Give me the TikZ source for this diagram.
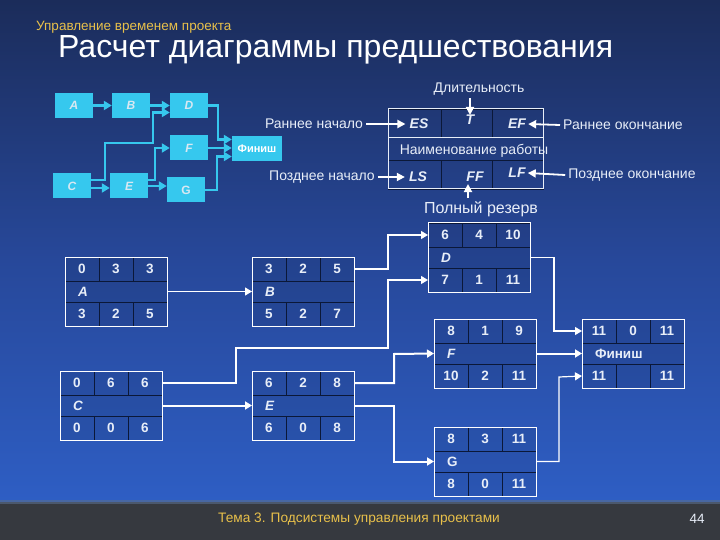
\documentclass[tikz,border=0pt]{standalone}
\usepackage{fontspec}
\setmainfont{Liberation Sans}
\usetikzlibrary{arrows.meta,calc}
\definecolor{bgtop}{HTML}{1B2C5A}
\definecolor{bgmid}{HTML}{27489A}
\definecolor{bgbot}{HTML}{2E5EC4}
\definecolor{band}{HTML}{36393F}
\definecolor{bandline}{HTML}{5A6E8C}
\definecolor{cyanbox}{HTML}{36C8EE}
\definecolor{cyantext}{HTML}{D8E8F2}
\definecolor{paletext}{HTML}{E8EEF8}
\definecolor{gridline}{HTML}{0B1838}
\definecolor{yel}{HTML}{E8C04A}
\newcommand\acttable[9]{%
  \node[cellbox, anchor=north west] (#1-t1) at (#2) {#3};
  \node[cellbox, anchor=west] (#1-t2) at (#1-t1.east) {#4};
  \node[cellbox, anchor=west] (#1-t3) at (#1-t2.east) {#5};
  \node[namebox, anchor=north west] (#1-n) at (#1-t1.south west) {#6};
  \node[cellbox, anchor=north west] (#1-b1) at (#1-n.south west) {#7};
  \node[cellbox, anchor=west] (#1-b2) at (#1-b1.east) {#8};
  \node[cellbox, anchor=west] (#1-b3) at (#1-b2.east) {#9};
  \draw[outerline] (#1-t1.north west) rectangle (#1-b3.south east);
}
\begin{document}
\begin{tikzpicture}[x=1pt,y=-1pt,
  cellbox/.style={draw=gridline, line width=0.9pt, fill=black, fill opacity=0.08, text opacity=1,
    minimum width=34pt, minimum height=24pt, inner sep=0pt, outer sep=0pt, text=paletext,
    font=\fontsize{13.5}{15}\selectfont\bfseries},
  namebox/.style={draw=gridline, line width=0.9pt, fill=black, fill opacity=0.08, text opacity=1,
    minimum height=21pt, inner ysep=0pt, inner xsep=13pt, outer sep=0pt, text width=76pt, align=left, text=paletext,
    font=\fontsize{13.5}{15}\selectfont\bfseries},
  outerline/.style={draw=white, line width=1pt},
  legcell/.style={draw=gridline, line width=0.9pt, inner sep=0pt, outer sep=0pt},
  legtxt/.style={text=paletext, font=\fontsize{14}{16}\selectfont\bfseries\itshape, inner sep=0pt},
  leglbl/.style={text=paletext, font=\fontsize{14}{16}\selectfont, inner sep=3pt},
  legarr/.style={draw=white, line width=1.8pt, -{Triangle[length=8pt,width=8pt]}},
  conn/.style={draw=white, line width=1.2pt, -{Triangle[length=7pt,width=8pt]}},
  connb/.style={draw=white, line width=2pt, -{Triangle[length=7pt,width=8pt]}},
  sbox/.style={fill=cyanbox, minimum width=38pt, minimum height=25pt, inner sep=0pt,
    text=cyantext, font=\fontsize{12}{14}\selectfont\bfseries\itshape},
  sarr/.style={draw=cyanbox, line width=2.4pt, -{Triangle[length=8pt,width=9pt]}}
]
\useasboundingbox (0,0) rectangle (720,540);
% background
\shade[top color=bgtop, bottom color=bgmid] (0,0) rectangle (720,260);
\shade[top color=bgmid, bottom color=bgbot] (0,260) rectangle (720,502);
\fill[band] (0,502) rectangle (720,540);
\fill[bandline, opacity=0.6] (0,500) rectangle (720,504);

% header
\node[anchor=base west, text=yel, font=\fontsize{13.5}{15}\selectfont, inner sep=0pt] (sub) at (36,31) {Управление временем проекта};
\node[anchor=base west, text=white, font=\fontsize{32}{36}\selectfont, inner sep=0pt] (title) at (58,58) {Расчет диаграммы предшествования};

% small network
\node[sbox] (sA) at (74,105.5) {A};
\node[sbox] (sB) at (131,105.5) {B};
\node[sbox] (sD) at (189,105.5) {D};
\node[sbox] (sF) at (189,148) {F};
\node[sbox, minimum width=50pt, text=white, font=\fontsize{11}{13}\selectfont\bfseries] (sFin) at (257,148.5) {Финиш};
\node[sbox] (sC) at (72,186) {C};
\node[sbox] (sE) at (129,186) {E};
\node[sbox, font=\fontsize{12}{14}\selectfont\bfseries] (sG) at (186,190) {G};
\draw[sarr] (sA) -- (sB);
\draw[sarr] (sB) -- (sD);
\draw[sarr] ([yshift=-2pt]sC.east) -- ([yshift=-2pt]sE.west);
\draw[sarr] ([yshift=6pt]sC.east) -- ++(14,0) |- ++(48,-37) |- ([yshift=-7pt]sD.west);
\draw[sarr] ([yshift=6pt]sE.east) -- ++(7,0) |- (sF.west);
\draw[sarr] (sE.east) -- (sE.east -| sG.west);
\draw[sarr] (sD.east) -- ++(10,0) |- ([yshift=9pt]sFin.west);
\draw[sarr] (sF.east) -- (sF.east -| sFin.west);
\draw[sarr] (sG.east) -- ++(12,0) |- ([yshift=-8pt]sFin.west);

% legend table
\node[legcell, anchor=north west, minimum width=53pt, minimum height=28pt] (L-t1) at (388,109) {};
\node[legcell, anchor=west, minimum width=51pt, minimum height=28pt] (L-t2) at (L-t1.east) {};
\node[legcell, anchor=west, minimum width=51pt, minimum height=28pt] (L-t3) at (L-t2.east) {};
\node[legcell, draw=paletext, anchor=north west, minimum width=155pt, minimum height=23pt] (L-n) at (L-t1.south west) {};
\node[legcell, anchor=north west, minimum width=53pt, minimum height=29pt] (L-b1) at (L-n.south west) {};
\node[legcell, anchor=west, minimum width=51pt, minimum height=29pt] (L-b2) at (L-b1.east) {};
\node[legcell, anchor=west, minimum width=51pt, minimum height=29pt] (L-b3) at (L-b2.east) {};
\draw[draw=paletext, line width=1pt] (L-t1.north west) rectangle (L-b3.south east);
\node[legtxt] (ES) at (419,124) {ES};
\node[legtxt] (T) at (470,120) {T};
\node[legtxt] (EF) at (517,124) {EF};
\node[legtxt] (LS) at (418,177) {LS};
\node[legtxt] (FF) at (475,177) {FF};
\node[legtxt] (LF) at (517,173) {LF};
\node[leglbl] (Lname) at (474,151) {Наименование работы};
\node[leglbl] (Dl) at (479,89) {Длительность};
\node[leglbl] (RN) at (314,124) {Раннее начало};
\node[leglbl] (RO) at (623,125) {Раннее окончание};
\node[leglbl] (PN) at (322,177) {Позднее начало};
\node[leglbl] (PO) at (632,175) {Позднее окончание};
\node[leglbl, font=\fontsize{16}{18}\selectfont] (PR) at (481,209) {Полный резерв};
\draw[legarr] (Dl.south -| T.north) -- (T.north);
\draw[legarr] (RN.east) -- ([xshift=-4pt]ES.west);
\draw[legarr] (RO.west) -- ([xshift=2pt]EF.east);
\draw[legarr] (PN.east) -- ([xshift=-4pt]LS.west);
\draw[legarr] (PO.west) -- ([xshift=2pt]LF.east);
\draw[legarr] ([xshift=-13pt]PR.north) -- ([xshift=-7pt,yshift=-2pt]FF.south);

% activity tables
\acttable{A}{65,257}{0}{3}{3}{\itshape A}{3}{2}{5}
\acttable{B}{252,257}{3}{2}{5}{\itshape B}{5}{2}{7}
\acttable{D}{428,223}{6}{4}{10}{\itshape D}{7}{1}{11}
\acttable{F}{434,319}{8}{1}{9}{\itshape F}{10}{2}{11}
\acttable{Fin}{582,319}{11}{0}{11}{Финиш}{11}{}{11}
\acttable{C}{60,371}{0}{6}{6}{\itshape C}{0}{0}{6}
\acttable{E}{252,371}{6}{2}{8}{\itshape E}{6}{0}{8}
\acttable{G}{434,427}{8}{3}{11}{G}{8}{0}{11}

% connectors
\coordinate (cBD) at (388,235);
\coordinate (cCD1) at (236,348);
\coordinate (cCD2) at (388,348);
\coordinate (cEF) at (394,354);
\coordinate (cDF) at (554,331);
\coordinate (cGF) at (559,377);
\draw[conn] (A-n.east) -- (B-n.west);
\draw[conn] (B-t3.east) -| (cBD) -- (D-t1.west);
\draw[conn] (C-t3.east) -| (cCD1) -- (cCD2) |- (D-b1.west);
\draw[connb] (C-n.east) -- (E-n.west);
\draw[connb] (E-t3.east) -| (cEF) -- (F-n.west);
\draw[connb] (E-n.east) -| (cEF |- G-n.west) -- (G-n.west);
\draw[conn] (D-n.east) -| (cDF) -- (Fin-t1.west);
\draw[connb] (F-n.east) -- (Fin-n.west);
\draw[conn] (G-n.east) -| (cGF) -- (Fin-b1.west);

% footer
\node[text=yel, font=\fontsize{13.7}{15}\selectfont, inner sep=0pt] (foot) at (359,519) {Тема 3. Подсистемы управления проектами};
\node[text=paletext, font=\fontsize{13.5}{15}\selectfont, inner sep=0pt] (pg) at (697,519) {44};
\end{tikzpicture}
\end{document}
